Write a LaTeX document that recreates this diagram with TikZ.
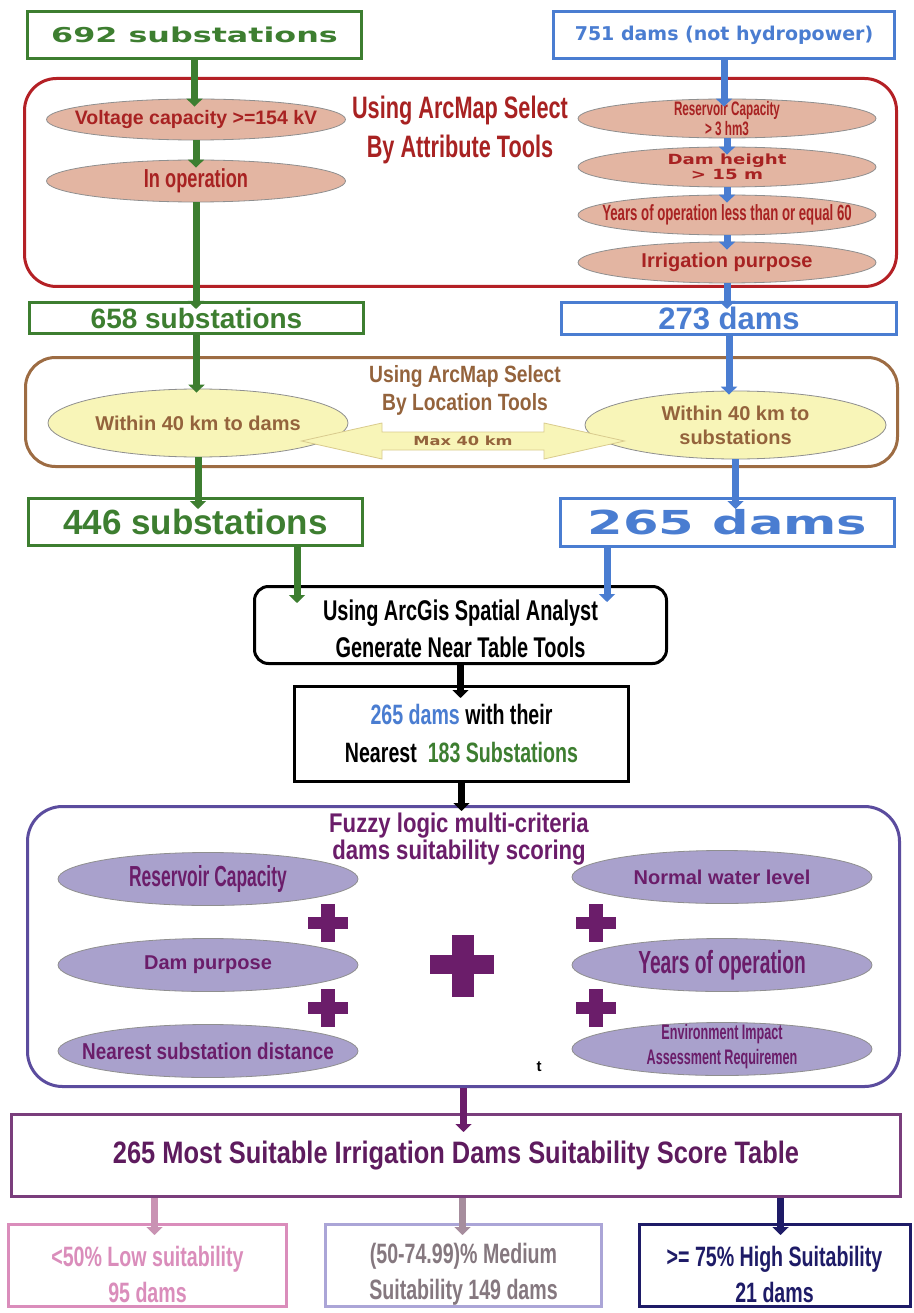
\documentclass[tikz,border=0pt]{standalone}
\usepackage{fontspec}
\setmainfont{Liberation Sans}
\newfontfamily\narrowfont[FakeStretch=0.82]{Liberation Sans}
\newfontfamily\condfont[FakeStretch=0.7]{Liberation Sans}
\newfontfamily\tallfont[FakeStretch=0.6]{Liberation Sans}
\newfontfamily\widefont[FakeStretch=1.55]{DejaVu Sans}
\newfontfamily\semiwidefont[FakeStretch=1.3]{DejaVu Sans}
\newfontfamily\verdfont{DejaVu Sans}
\usepackage{tikz}
\usetikzlibrary{shapes.geometric, arrows.meta, positioning, calc}
\definecolor{damgreen}{HTML}{3D7E30}
\definecolor{damblue}{HTML}{4A7DD1}
\definecolor{damred}{HTML}{B42025}
\definecolor{redtext}{HTML}{A82222}
\definecolor{salmon}{HTML}{E3B5A2}
\definecolor{ovalgray}{HTML}{8F8F8F}
\definecolor{brownedge}{HTML}{9D6C43}
\definecolor{browntext}{HTML}{94633C}
\definecolor{paleyellow}{HTML}{F8F5B8}
\definecolor{arrowtan}{HTML}{D9CB8E}
\definecolor{fuzzyedge}{HTML}{5B4C9E}
\definecolor{lavender}{HTML}{A9A1CC}
\definecolor{plumc}{HTML}{6B1D6A}
\definecolor{scoreedge}{HTML}{7A3E7C}
\definecolor{scoretext}{HTML}{5E1B5E}
\definecolor{lowpink}{HTML}{DA8DBB}
\definecolor{lowarrow}{HTML}{C993B3}
\definecolor{medlav}{HTML}{ABA5D7}
\definecolor{medtext}{HTML}{85787F}
\definecolor{medarrow}{HTML}{A68D9D}
\definecolor{highnavy}{HTML}{1E1B67}
\newcommand{\fsz}[2]{\fontsize{#1}{#2}\selectfont}

\begin{document}
\begin{tikzpicture}[x=1pt, y=-1pt,
    box/.style={draw, line width=3pt, fill=white, inner sep=0pt, align=center},
    oval/.style={ellipse, draw=ovalgray, line width=0.8pt, inner sep=0pt},
    panel/.style={draw, line width=3pt, inner sep=0pt},
    heading/.style={align=center, inner sep=0pt},
    flow/.style={-{Triangle[width=16pt,length=8pt]}, line width=7pt},
  ]
    \fill[white] (0,0) rectangle (913,1313);
    \useasboundingbox (0,0) rectangle (913,1313);

    % inputs
    \node[box, draw=damgreen, text=damgreen, minimum width=334pt, minimum height=47pt, font=\widefont\bfseries\fsz{20.5}{24}] (sub692) at (194.5,35) {692 substations};
    \node[box, draw=damblue, text=damblue, minimum width=341pt, minimum height=47pt, font=\verdfont\bfseries\fsz{19}{22}] (dam751) at (724,35) {751 dams (not hydropower)};

    % select by attribute
    \node[panel, draw=damred, rounded corners=32pt, minimum width=872pt, minimum height=208pt] (attr) at (460.5,182.5) {};
    \node[heading, text=redtext, font=\condfont\bfseries\fsz{31}{39}] (attrtitle) at (460,129.5) {Using ArcMap Select\\By Attribute Tools};
    \node[oval, fill=salmon, minimum width=299pt, minimum height=41pt, label={[text=redtext, font=\bfseries\fsz{19.5}{22}]center:{Voltage capacity >=154 kV}}] (volt) at (196,119.5) {};
    \node[oval, fill=salmon, minimum width=299pt, minimum height=42pt, label={[text=redtext, font=\condfont\bfseries\fsz{26}{30}]center:{In operation}}] (oper) at (196,181) {};
    \node[oval, fill=salmon, minimum width=298pt, minimum height=39pt, label={[text=redtext, align=center, font=\tallfont\bfseries\fsz{19.5}{17}]center:{Reservoir Capacity\\> 3 hm3}}] (resv) at (727,118.5) {};
    \node[oval, fill=salmon, minimum width=298pt, minimum height=40pt, label={[text=redtext, align=center, font=\semiwidefont\bfseries\fsz{14}{15}]center:{Dam height\\> 15 m}}] (hgt) at (727,167) {};
    \node[oval, fill=salmon, minimum width=298pt, minimum height=40pt, label={[text=redtext, font=\tallfont\bfseries\fsz{22}{24}]center:{Years of operation less than or equal 60}}] (years) at (727,215) {};
    \node[oval, fill=salmon, minimum width=298pt, minimum height=41pt, label={[text=redtext, font=\bfseries\fsz{20}{22}]center:{Irrigation purpose}}] (irrig) at (727,262.5) {};

    \node[box, draw=damgreen, text=damgreen, minimum width=334pt, minimum height=31pt, font=\bfseries\fsz{28}{30}] (sub658) at (196.5,318) {658 substations};
    \node[box, draw=damblue, text=damblue, minimum width=335pt, minimum height=32pt, font=\bfseries\fsz{31}{33}] (dam273) at (729,318.5) {273 dams};

    % select by location
    \node[panel, draw=brownedge, rounded corners=30pt, minimum width=872pt, minimum height=109pt] (loc) at (461.5,412) {};
    \node[heading, text=browntext, font=\narrowfont\bfseries\fsz{23.5}{28}] (loctitle) at (465,390) {Using ArcMap Select\\By Location Tools};
    \node[oval, fill=paleyellow, minimum width=300pt, minimum height=68pt, label={[text=browntext, font=\bfseries\fsz{20}{24}]center:{Within 40 km to dams}}] (within1) at (198,423) {};
    \node[oval, fill=paleyellow, minimum width=301pt, minimum height=68pt, label={[text=browntext, align=center, font=\bfseries\fsz{20}{24}]center:{Within 40 km to\\substations}}] (within2) at (735.5,425) {};
    \coordinate (maxmid) at (463,441);
    \draw[draw=arrowtan, fill=paleyellow, line width=0.8pt, shift={(maxmid)}]
      (-161.5,0) -- (-81,-18) -- (-81,-9) -- (81,-9) -- (81,-18) -- (161.5,0)
      -- (81,18) -- (81,9) -- (-81,9) -- (-81,18) -- cycle;
    \node[text=browntext, font=\semiwidefont\bfseries\fsz{12.5}{14}] (maxkm) at (maxmid) {Max 40 km};

    \node[box, draw=damgreen, text=damgreen, minimum width=334pt, minimum height=47pt, font=\bfseries\fsz{35}{38}] (sub446) at (195.5,522) {446 substations};
    \node[box, draw=damblue, text=damblue, minimum width=334pt, minimum height=48pt, font=\widefont\bfseries\fsz{33}{36}] (dam265) at (727.5,522.5) {265 dams};

    % near table
    \node[box, draw=black, rounded corners=14pt, minimum width=412pt, minimum height=77pt, label={[align=center, yshift=-4pt, font=\condfont\bfseries\fsz{28.5}{37}]center:{Using ArcGis Spatial Analyst\\Generate Near Table Tools}}] (near) at (460.5,625) {};
    \node[box, draw=black, minimum width=334pt, minimum height=95pt, font=\condfont\bfseries\fsz{28}{38}] (nearest) at (461.5,734) {{\color{damblue}265 dams} with their\\Nearest\ \ {\color{damgreen}183 Substations}};

    % fuzzy scoring
    \node[panel, draw=fuzzyedge, rounded corners=35pt, minimum width=872pt, minimum height=280pt] (fuzzy) at (463.5,946.5) {};
    \node[heading, text=plumc, font=\narrowfont\bfseries\fsz{27}{25}] (fuzzytitle) at (459,839) {Fuzzy logic multi-criteria\\dams suitability scoring};
    \node[oval, fill=lavender, minimum width=300pt, minimum height=53pt, label={[text=plumc, font=\tallfont\bfseries\fsz{29}{30}]center:{Reservoir Capacity}}] (resvc) at (208,879) {};
    \node[oval, fill=lavender, minimum width=300pt, minimum height=53pt, label={[text=plumc, font=\bfseries\fsz{20}{22}]center:{Dam purpose}}] (purpose) at (208,965) {};
    \node[oval, fill=lavender, minimum width=300pt, minimum height=53pt, label={[text=plumc, font=\narrowfont\bfseries\fsz{23}{26}]center:{Nearest substation distance}}] (nearsub) at (208,1051) {};
    \node[oval, fill=lavender, minimum width=300pt, minimum height=53pt, label={[text=plumc, font=\bfseries\fsz{20}{22}]center:{Normal water level}}] (normal) at (722,877) {};
    \node[oval, fill=lavender, minimum width=300pt, minimum height=53pt, label={[text=plumc, font=\tallfont\bfseries\fsz{32}{34}]center:{Years of operation}}] (yearsop) at (722,965) {};
    \node[oval, fill=lavender, minimum width=300pt, minimum height=53pt, label={[text=plumc, align=center, yshift=2pt, font=\tallfont\bfseries\fsz{21}{25}]center:{Environment Impact\\Assessment Requiremen}}] (eia) at (722,1049) {};
    \foreach \px/\py in {328/923, 328/1008, 596/923, 596/1008}{
      \fill[plumc] (\px-7,\py-19) rectangle (\px+7,\py+19);
      \fill[plumc] (\px-20,\py-6) rectangle (\px+20,\py+6);
    }
    \fill[plumc] (452,935) rectangle (474,997);
    \fill[plumc] (430,955) rectangle (494,974);
    \node[font=\bfseries\fsz{15}{17}] (tmark) at (539,1067) {t};

    % results
    \node[box, draw=scoreedge, text=scoretext, minimum width=889pt, minimum height=82pt, font=\narrowfont\bfseries\fsz{31}{34}] (score) at (456,1155.5) {265 Most Suitable Irrigation Dams Suitability Score Table};
    \node[box, draw=lowpink, minimum width=278pt, minimum height=82pt, label={[text=lowpink, align=center, yshift=-9pt, font=\condfont\bfseries\fsz{28}{36}]center:{<50\% Low suitability\\95 dams}}] (low) at (147.5,1265.5) {};
    \node[box, draw=medlav, minimum width=276pt, minimum height=82pt, label={[text=medtext, align=center, yshift=-9pt, font=\condfont\bfseries\fsz{28}{36}]center:{(50-74.99)\% Medium\\Suitability 149 dams}}] (med) at (463.5,1265.5) {};
    \node[box, draw=highnavy, minimum width=271pt, minimum height=82pt, label={[text=highnavy, align=center, yshift=-9pt, font=\condfont\bfseries\fsz{28}{36}]center:{>= 75\% High Suitability\\21 dams}}] (high) at (774.5,1265.5) {};

    % substation flow
    \draw[flow, damgreen] (sub692.south) -- ($(sub692.south |- volt.north)+(0,8)$);
    \draw[flow, damgreen] (volt.south) -- ($(volt.south |- oper.north)+(0,8)$);
    \draw[flow, damgreen] (oper.south) -- ($(oper.south |- sub658.north)+(0,8)$);
    \draw[flow, damgreen] (sub658.south) -- ($(sub658.south |- within1.north)+(0,4)$);
    \draw[flow, damgreen] (within1.south) -- ($(within1.south |- sub446.north)+(0,12)$);
    \draw[flow, damgreen] ($(near.north west |- sub446.south)+(44,0)$) -- ($(near.north west)+(44,18)$);

    % dam flow
    \draw[flow, damblue] (dam751.south) -- ($(dam751.south |- resv.north)+(0,8)$);
    \draw[flow, damblue] (resv.south) -- ($(resv.south |- hgt.north)+(0,8)$);
    \draw[flow, damblue] (hgt.south) -- ($(hgt.south |- years.north)+(0,8)$);
    \draw[flow, damblue] (years.south) -- ($(years.south |- irrig.north)+(0,8)$);
    \draw[flow, damblue] (irrig.south) -- ($(irrig.south |- dam273.north)+(0,8)$);
    \draw[flow, damblue] (dam273.south) -- ($(dam273.south |- within2.north)+(0,4)$);
    \draw[flow, damblue] (within2.south) -- ($(within2.south |- dam265.north)+(0,12)$);
    \draw[flow, damblue] ($(near.north east |- dam265.south)+(-61,0)$) -- ($(near.north east)+(-61,17)$);

    % analysis
    \draw[flow] (near.south) -- ($(near.south |- nearest.north)+(0,13)$);
    \draw[flow] (nearest.south) -- ($(nearest.south |- fuzzy.north)+(0,6)$);
    \draw[flow, plumc] (fuzzy.south) -- ($(fuzzy.south |- score.north)+(0,19)$);
    \draw[flow, lowarrow] ($(low.north |- score.south)+(7,0)$) -- ($(low.north)+(7,12)$);
    \draw[flow, medarrow] ($(med.north |- score.south)+(-1,0)$) -- ($(med.north)+(-1,12)$);
    \draw[flow, highnavy] ($(high.north |- score.south)+(6,0)$) -- ($(high.north)+(6,12)$);
  \end{tikzpicture}
\end{document}
